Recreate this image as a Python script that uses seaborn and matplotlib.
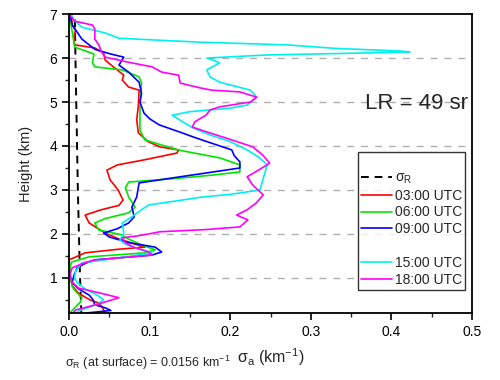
import numpy as np
import pandas as pd
import seaborn as sns
import matplotlib.pyplot as plt
from matplotlib.lines import Line2D
from matplotlib.ticker import MultipleLocator

# Rayleigh extinction profile
h_ray = [0.2, 1, 2, 3, 4, 5, 6, 7]
s_ray = [0.0153, 0.0137, 0.0123, 0.0110, 0.0100, 0.0090, 0.0080, 0.0072]

# aerosol extinction profiles: height (km), sigma_a (1/km)
h_03 = [0.2, 0.34, 0.43, 0.5, 0.65, 0.82, 1.0, 1.2, 1.41, 1.57, 1.65, 1.7, 1.78, 1.9,
        2.02, 2.25, 2.43, 2.55, 2.65, 2.77, 3.0, 3.23, 3.45, 3.57, 3.68, 3.84, 3.91,
        3.98, 4.1, 4.3, 4.6, 4.9, 5.27, 5.34, 5.5, 5.61, 5.77, 5.95, 6.11, 6.23, 6.3,
        6.48, 6.64, 6.75, 7.0]
s_03 = [0.045, 0.041, 0.037, 0.026, 0.012, 0.004, 0.002, 0.001, 0.0, 0.02, 0.06, 0.094,
        0.08, 0.06, 0.045, 0.025, 0.02, 0.04, 0.062, 0.067, 0.061, 0.051, 0.047, 0.06,
        0.092, 0.134, 0.136, 0.113, 0.098, 0.086, 0.084, 0.086, 0.087, 0.074, 0.066,
        0.068, 0.057, 0.045, 0.043, 0.032, 0.007, 0.006, 0.008, 0.004, 0.003]

h_06 = [0.2, 0.32, 0.45, 0.55, 0.7, 0.8, 1.0, 1.2, 1.36, 1.48, 1.57, 1.64, 1.75, 1.9,
        1.98, 2.09, 2.25, 2.35, 2.48, 2.61, 2.84, 3.05, 3.18, 3.27, 3.34, 3.41, 3.57,
        3.73, 3.9, 3.95, 4.14, 4.36, 4.89, 5.43, 5.57, 5.73, 5.8, 5.9, 6.09, 6.25, 6.6, 7.0]
s_06 = [0.001, 0.007, 0.014, 0.016, 0.008, 0.004, 0.002, 0.001, 0.003, 0.025, 0.094,
        0.107, 0.09, 0.072, 0.066, 0.037, 0.032, 0.045, 0.074, 0.082, 0.074, 0.07, 0.074,
        0.138, 0.179, 0.212, 0.212, 0.187, 0.138, 0.128, 0.094, 0.088, 0.088, 0.09, 0.087,
        0.066, 0.032, 0.029, 0.031, 0.007, 0.004, 0.0]

h_09 = [0.2, 0.26, 0.32, 0.39, 0.5, 0.61, 0.75, 0.89, 1.05, 1.23, 1.33, 1.41, 1.47, 1.52,
        1.59, 1.7, 1.8, 1.93, 2.02, 2.12, 2.25, 2.39, 2.61, 2.84, 3.16, 3.3, 3.41, 3.5,
        3.64, 3.78, 3.91, 4.1, 4.2, 4.3, 4.48, 4.62, 4.75, 5.0, 5.2, 5.45, 5.68, 5.84,
        6.02, 6.1, 6.2, 6.43, 6.75, 7.0]
s_09 = [0.02, 0.052, 0.045, 0.032, 0.03, 0.025, 0.012, 0.004, 0.006, 0.01, 0.02, 0.032,
        0.07, 0.103, 0.115, 0.107, 0.075, 0.05, 0.043, 0.06, 0.074, 0.081, 0.078, 0.084,
        0.087, 0.138, 0.179, 0.212, 0.212, 0.205, 0.202, 0.171, 0.155, 0.14, 0.112, 0.1,
        0.093, 0.088, 0.09, 0.087, 0.074, 0.062, 0.068, 0.05, 0.032, 0.016, 0.004, 0.001]

h_15 = [0.2, 0.25, 0.4, 0.5, 0.6, 0.75, 0.9, 1.0, 1.15, 1.34, 1.45, 1.57, 1.64, 1.75,
        1.86, 2.02, 2.25, 2.39, 2.55, 2.66, 2.77, 2.84, 2.9, 3.0, 3.2, 3.39, 3.57, 3.75,
        3.91, 4.1, 4.25, 4.4, 4.55, 4.62, 4.7, 4.78, 4.86, 4.93, 5.11, 5.27, 5.45, 5.57,
        5.73, 5.89, 5.95, 6.0, 6.07, 6.12, 6.14, 6.16, 6.22, 6.3, 6.36, 6.45, 6.57, 6.7,
        6.85, 7.0]
s_15 = [0.01, 0.012, 0.035, 0.043, 0.036, 0.02, 0.01, 0.007, 0.008, 0.016, 0.06, 0.103,
        0.09, 0.072, 0.063, 0.068, 0.066, 0.078, 0.09, 0.099, 0.14, 0.165, 0.2, 0.237,
        0.24, 0.243, 0.246, 0.235, 0.221, 0.2, 0.175, 0.155, 0.141, 0.135, 0.128, 0.15,
        0.2, 0.221, 0.233, 0.225, 0.187, 0.175, 0.171, 0.187, 0.179, 0.171, 0.246, 0.38,
        0.423, 0.41, 0.33, 0.27, 0.163, 0.062, 0.045, 0.016, 0.007, 0.002]

h_18 = [0.2, 0.27, 0.4, 0.55, 0.65, 0.77, 0.9, 1.07, 1.23, 1.35, 1.41, 1.47, 1.52, 1.59,
        1.7, 1.8, 1.91, 1.97, 2.05, 2.1, 2.16, 2.32, 2.43, 2.55, 2.7, 2.89, 3.11, 3.3,
        3.45, 3.61, 3.8, 3.98, 4.15, 4.32, 4.43, 4.55, 4.7, 4.82, 4.89, 5.0, 5.11, 5.23,
        5.27, 5.32, 5.43, 5.61, 5.68, 5.8, 5.9, 6.02, 6.15, 6.3, 6.43, 6.66, 6.75, 6.84, 7.0]
s_18 = [0.005, 0.008, 0.035, 0.062, 0.04, 0.012, 0.004, 0.001, 0.004, 0.02, 0.032, 0.07,
        0.103, 0.099, 0.08, 0.07, 0.066, 0.09, 0.113, 0.17, 0.212, 0.222, 0.208, 0.221,
        0.232, 0.241, 0.228, 0.221, 0.235, 0.249, 0.24, 0.228, 0.2, 0.171, 0.153, 0.156,
        0.17, 0.175, 0.187, 0.225, 0.233, 0.212, 0.177, 0.163, 0.138, 0.136, 0.115, 0.103,
        0.075, 0.045, 0.04, 0.037, 0.032, 0.032, 0.029, 0.007, 0.0]

labels = ["03:00 UTC", "06:00 UTC", "09:00 UTC", "15:00 UTC", "18:00 UTC"]
colors = ["#ff0000", "#00e600", "#0000ff", "#00f0f0", "#ff00ff"]

frames = []
for lab, hh, ss in zip(labels, [h_03, h_06, h_09, h_15, h_18],
                       [s_03, s_06, s_09, s_15, s_18]):
    frames.append(pd.DataFrame({"height": hh, "sigma": ss, "time": lab}))
df = pd.concat(frames, ignore_index=True)

sns.set_style("ticks")
plt.rcParams["font.family"] = ["Liberation Sans", "DejaVu Sans"]
plt.rcParams["mathtext.fontset"] = "custom"
plt.rcParams["mathtext.rm"] = "Liberation Sans"
plt.rcParams["mathtext.it"] = "Liberation Sans:italic"

fig = plt.figure(figsize=(5, 3.8), dpi=100)
ax = fig.add_axes([0.138, 0.176, 0.806, 0.787])

ax.plot(s_ray, h_ray, color="black", lw=1.4, ls=(0, (4, 3)))
sns.lineplot(data=df, x="sigma", y="height", hue="time", palette=colors,
             sort=False, estimator=None, lw=1.2, legend=False, ax=ax)

ax.set_xlim(0, 0.5)
ax.set_ylim(0.2, 7)
ax.xaxis.set_major_locator(MultipleLocator(0.1))
ax.xaxis.set_minor_locator(MultipleLocator(0.05))
ax.yaxis.set_major_locator(MultipleLocator(1))
ax.yaxis.set_minor_locator(MultipleLocator(0.5))
ax.xaxis.set_major_formatter(plt.FormatStrFormatter("%.1f"))
ax.tick_params(which="major", length=5, width=1.2, labelsize=10, colors="black")
ax.tick_params(which="minor", length=3, width=1)
for sp in ax.spines.values():
    sp.set_visible(True)
    sp.set_linewidth(1.3)
    sp.set_color("black")

for yv in range(1, 7):
    ax.axhline(yv, color="#b0b0b0", lw=1, ls=(0, (5, 5)), zorder=0)

ax.set_xlabel("σ$_\\mathrm{a}$ (km$^{-1}$)", fontsize=11.5, labelpad=5)
ax.set_ylabel("Height (km)", fontsize=10.5, labelpad=12)

ax.text(0.735, 0.70, "LR = 49 sr", transform=ax.transAxes, fontsize=16,
        va="center", ha="left")

fig.text(0.13, 1 - 363 / 380, "σ$_\\mathrm{R}$ (at surface) = 0.0156 km$^{-1}$",
         fontsize=9, va="center", ha="left")

handles = [Line2D([], [], color="black", lw=1.4, ls=(0, (4, 3)))]
names = ["σ$_\\mathrm{R}$"]
for c, lab in zip(colors[:3], labels[:3]):
    handles.append(Line2D([], [], color=c, lw=1.2))
    names.append(lab)
handles.append(Line2D([], [], color="none"))
names.append(" ")
for c, lab in zip(colors[3:], labels[3:]):
    handles.append(Line2D([], [], color=c, lw=1.2))
    names.append(lab)

leg = ax.legend(handles, names, loc="upper left", bbox_to_anchor=(0.717, 0.538),
                borderaxespad=0, frameon=True, fancybox=False, fontsize=10,
                handlelength=2.2, handletextpad=0.2, labelspacing=0.2,
                borderpad=0.25, title=" ", title_fontsize=9)
leg.get_frame().set_edgecolor("black")
leg.get_frame().set_linewidth(1)
leg._legend_box.align = "left"

fig.savefig("out.png", dpi=100)
